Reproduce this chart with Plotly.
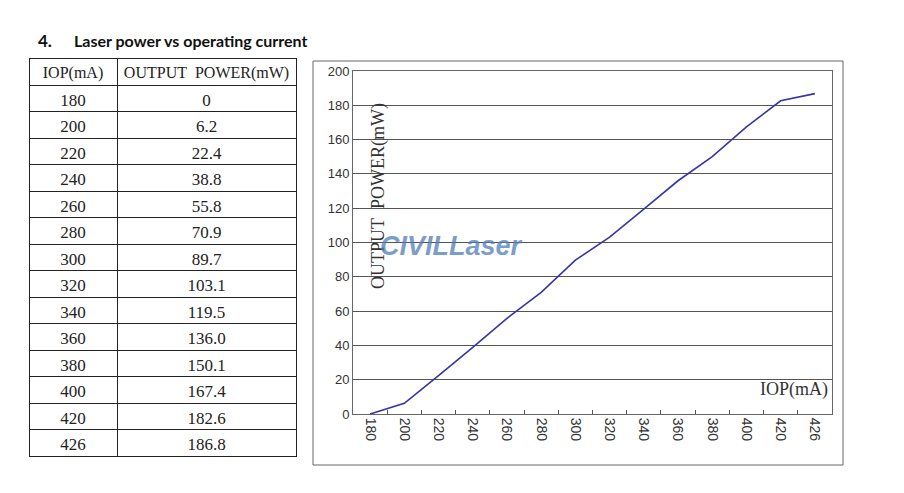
import plotly.graph_objects as go

W, H = 904, 493

iop = ["180", "200", "220", "240", "260", "280", "300", "320", "340", "360", "380", "400", "420", "426"]
power = [0, 6.2, 22.4, 38.8, 55.8, 70.9, 89.7, 103.1, 119.5, 136.0, 150.1, 167.4, 182.6, 186.8]
power_text = ["0", "6.2", "22.4", "38.8", "55.8", "70.9", "89.7", "103.1", "119.5", "136.0", "150.1", "167.4", "182.6", "186.8"]
header = ["IOP(mA)", "OUTPUT\u00a0\u00a0POWER(mW)"]
y_ticks = [0, 20, 40, 60, 80, 100, 120, 140, 160, 180, 200]


def px(x):
    return x / W


def py(y):
    return 1 - y / H


fig = go.Figure()

fig.add_trace(go.Table(
    domain=dict(x=[px(29), px(296)], y=[py(459), py(58)]),
    columnwidth=[88, 179],
    header=dict(values=header, height=27, align="center",
                line=dict(color="#222", width=1), fill=dict(color="white"),
                font=dict(family="Liberation Serif", size=16, color="#222")),
    cells=dict(values=[iop, power_text], height=26.5, align="center",
               line=dict(color="#222", width=1), fill=dict(color="white"),
               font=dict(family="Liberation Serif", size=17, color="#222")),
))

fig.add_trace(go.Scatter(
    x=iop, y=power, mode="lines",
    line=dict(color="#3535a8", width=1.6),
    showlegend=False, hoverinfo="x+y",
))

fig.update_layout(
    width=W, height=H, autosize=False,
    margin=dict(l=0, r=0, t=0, b=0, pad=0),
    paper_bgcolor="white", plot_bgcolor="white",
    showlegend=False,
    xaxis=dict(
        domain=[px(353), px(832)], type="category",
        range=[-0.5, 13.5], automargin=False,
        tickangle=90, tickson="boundaries", ticks="inside", ticklen=4,
        tickcolor="#555", showgrid=False, zeroline=False,
        showline=True, linecolor="#666", linewidth=1, mirror=True,
        tickfont=dict(family="Liberation Sans", size=14, color="#333"),
        anchor="y",
    ),
    yaxis=dict(
        domain=[py(414), py(71)], range=[0, 200], automargin=False,
        tickvals=y_ticks, showgrid=True, gridcolor="#555", gridwidth=1,
        zeroline=False, showline=True, linecolor="#666", linewidth=1, mirror=True,
        ticks="", tickfont=dict(family="Liberation Sans", size=13, color="#333"),
        anchor="x",
    ),
)

# Outer frame of the chart
fig.add_shape(type="rect", xref="paper", yref="paper",
              x0=px(313), x1=px(843), y0=py(465), y1=py(61),
              line=dict(color="#666", width=1), layer="below")

# Title
fig.add_annotation(xref="paper", yref="paper", x=px(36), y=py(40), xanchor="left", yanchor="middle",
                   text="<b>4.</b>", showarrow=False,
                   font=dict(family="Lato", size=17, color="#111"))
fig.add_annotation(xref="paper", yref="paper", x=px(72), y=py(40), xanchor="left", yanchor="middle",
                   text="<b>Laser power vs operating current</b>", showarrow=False,
                   font=dict(family="Lato", size=16, color="#111"))

# Axis titles inside the plot
fig.add_annotation(xref="paper", yref="paper", x=px(378), y=py(196), xanchor="center", yanchor="middle",
                   text="OUTPUT\u00a0\u00a0POWER(mW)", textangle=-90, showarrow=False,
                   font=dict(family="Liberation Serif", size=18, color="#333"))
fig.add_annotation(xref="paper", yref="paper", x=px(830), y=py(389), xanchor="right", yanchor="middle",
                   text="IOP(mA)", showarrow=False,
                   font=dict(family="Liberation Serif", size=18, color="#333"))

# Watermark
fig.add_annotation(xref="paper", yref="paper", x=px(378), y=py(246), xanchor="left", yanchor="middle",
                   text="<b><i>CIVILLaser</i></b>", showarrow=False,
                   font=dict(family="Liberation Sans", size=27, color="rgba(80,125,185,0.75)"))

fig.write_html("out.html", config={"displayModeBar": False})

with open("out.html", "r", encoding="utf-8") as f:
    html = f.read()
html = html.replace(
    "<head>",
    "<head><style>html,body{margin:0;padding:0;overflow:hidden;}"
    ".plotly-graph-div{position:absolute;top:0;left:0;}</style>",
    1,
)
with open("out.html", "w", encoding="utf-8") as f:
    f.write(html)
